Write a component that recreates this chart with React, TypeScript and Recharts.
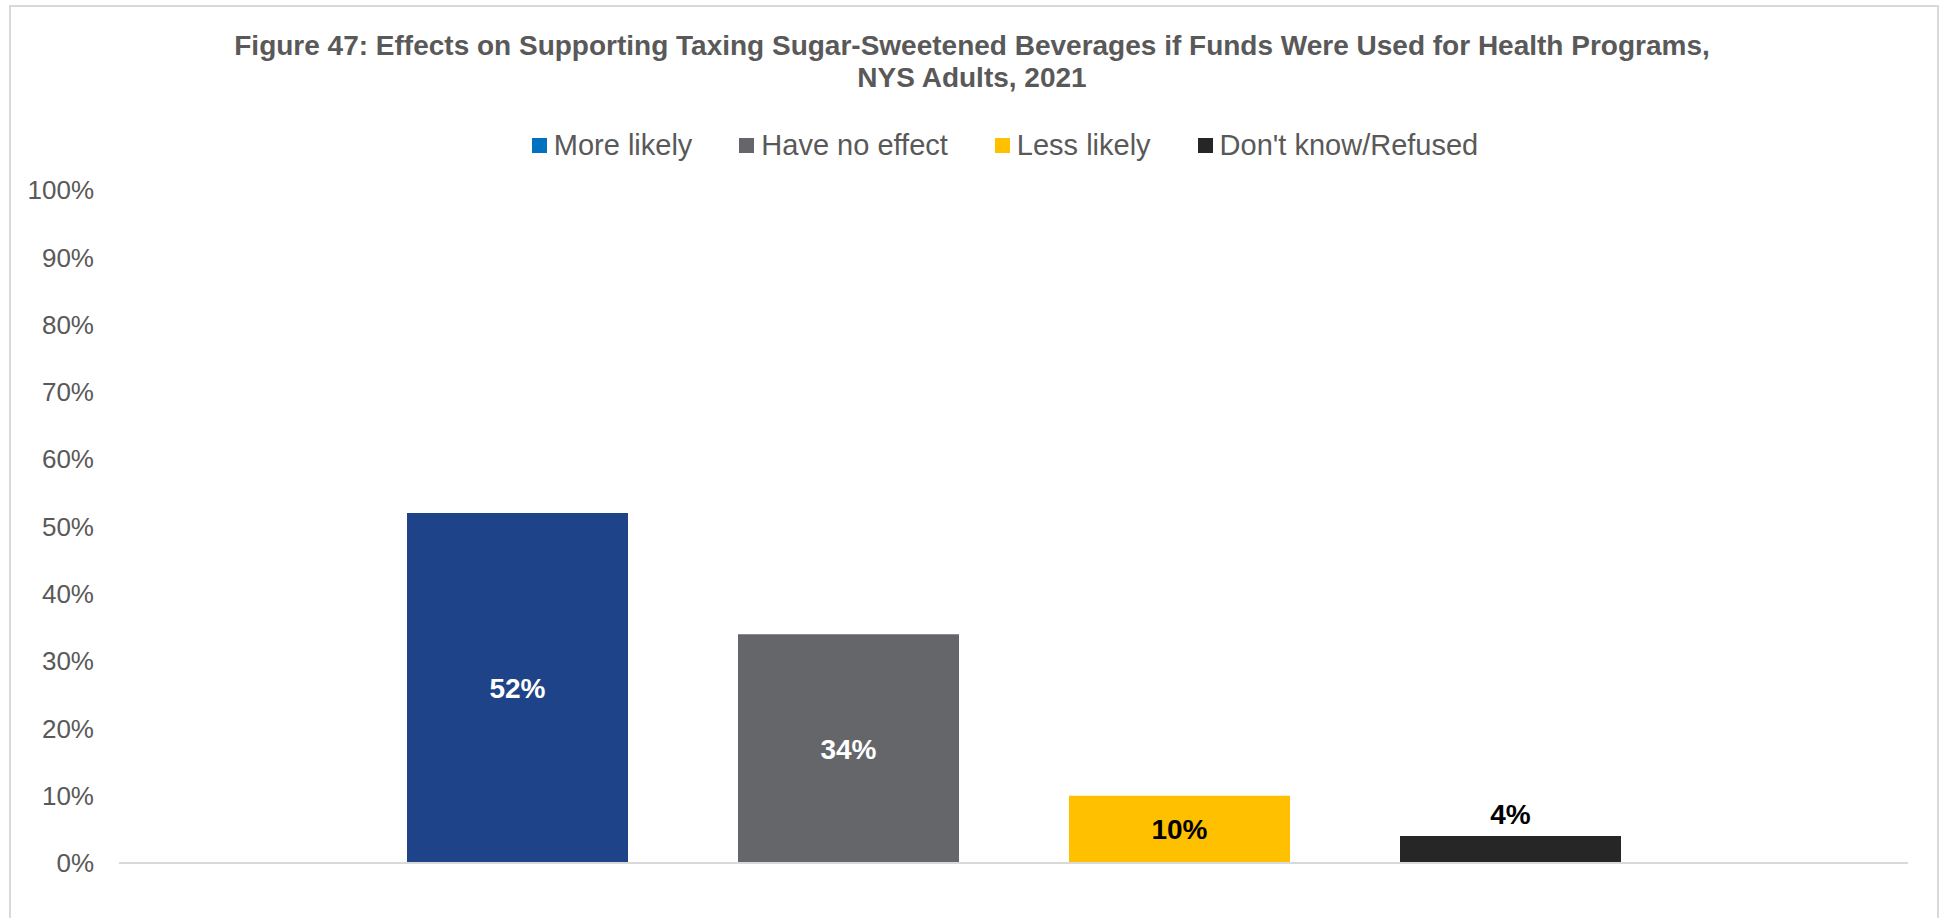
import { BarChart, Bar, XAxis, YAxis, Legend, LabelList } from 'recharts'

const categories = ['']
const seriesNames = ['More likely', 'Have no effect', 'Less likely', "Don't know/Refused"]
const seriesValues = [52, 34, 10, 4]
const yTicks = [0, 10, 20, 30, 40, 50, 60, 70, 80, 90, 100]
const titleLines = [
  'Figure 47: Effects on Supporting Taxing Sugar-Sweetened Beverages if Funds Were Used for Health Programs,',
  'NYS Adults, 2021',
]

const barColors = ['#1F4388', '#646669', '#FFC000', '#262626']
const legendColors = ['#0070C0', '#646669', '#FFC000', '#262626']
const labelColors = ['#FFFFFF', '#FFFFFF', '#000000', '#000000']
const labelPositions = ['center', 'center', 'center', 'top'] as const

const FONT = "'Liberation Sans', Arial, sans-serif"
const GREY = '#595959'

const data = categories.map((category) => {
  const row: Record<string, string | number> = { category }
  seriesNames.forEach((name, i) => {
    row[name] = seriesValues[i]
  })
  return row
})

const renderLegend = () => (
  <div style={{ display: 'flex', justifyContent: 'center', paddingLeft: 66, fontFamily: FONT }}>
    {seriesNames.map((name, i) => (
      <div key={name} style={{ display: 'flex', alignItems: 'center', marginRight: i < seriesNames.length - 1 ? 47 : 0 }}>
        <span style={{ width: 15, height: 15, background: legendColors[i], marginRight: 7, display: 'inline-block' }} />
        <span style={{ fontSize: 29, lineHeight: '32px', color: GREY }}>{name}</span>
      </div>
    ))}
  </div>
)

const App = () => {
  return (
    <div style={{ position: 'absolute', left: 0, top: 0, width: 1944, height: 918, background: '#fff', overflow: 'hidden' }}>
      <div
        style={{
          position: 'absolute',
          left: 9,
          top: 5,
          width: 1926,
          height: 930,
          border: '2px solid #d9d9d9',
          borderBottom: 'none',
        }}
      />
      <div
        style={{
          position: 'absolute',
          top: 30,
          left: 0,
          width: 1944,
          textAlign: 'center',
          fontFamily: FONT,
          fontWeight: 'bold',
          fontSize: 28,
          lineHeight: '32px',
          color: GREY,
        }}
      >
        {titleLines.map((line) => (
          <div key={line}>{line}</div>
        ))}
      </div>
      <BarChart
        width={1944}
        height={918}
        data={data}
        margin={{ top: 190, right: 36, left: 0, bottom: 54 }}
        barSize={221}
        barGap={110}
        style={{ position: 'absolute', left: 0, top: 0 }}
      >
        <XAxis
          dataKey='category'
          tick={false}
          tickLine={false}
          axisLine={{ stroke: '#d9d9d9', strokeWidth: 2 }}
          height={1}
        />
        <YAxis
          domain={[0, 100]}
          ticks={yTicks}
          interval={0}
          axisLine={false}
          tickLine={false}
          width={119}
          tickMargin={19}
          tickFormatter={(v) => `${v}%`}
          tick={{ fill: GREY, fontSize: 26, fontFamily: FONT }}
        />
        <Legend
          verticalAlign='middle'
          align='center'
          layout='horizontal'
          content={renderLegend}
          wrapperStyle={{ top: 129, left: 0, width: 1944 }}
        />
        {seriesNames.map((name, i) => (
          <Bar key={name} dataKey={name} fill={barColors[i]} isAnimationActive={false}>
            <LabelList
              dataKey={name}
              position={labelPositions[i]}
              offset={12}
              formatter={(v: any) => `${v}%`}
              fill={labelColors[i]}
              fontSize={28}
              fontWeight='bold'
              fontFamily={FONT}
            />
          </Bar>
        ))}
      </BarChart>
    </div>
  )
}

export default App
